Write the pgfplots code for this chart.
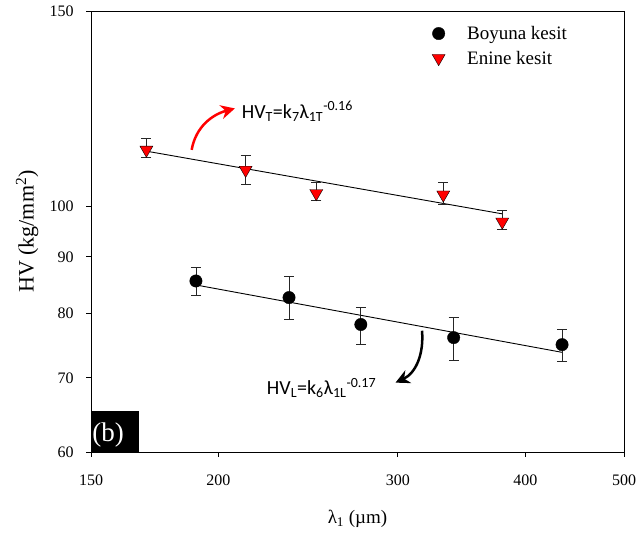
\documentclass[border=0pt]{standalone}
\usepackage{fontspec}
\setmainfont{Liberation Serif}
\newfontfamily\calfont{Carlito}
\usepackage{pgfplots}
\pgfplotsset{compat=1.18}
\usetikzlibrary{arrows.meta}

\begin{document}
\begin{tikzpicture}
\begin{axis}[
  scale only axis, width=533pt, height=441pt,
  xmode=log, ymode=log,
  xmin=150, xmax=500, ymin=60, ymax=150,
  xtick={150,200,300,400,500}, ytick={60,70,80,90,100,150},
  minor xtick={}, minor ytick={},
  log ticks with fixed point,
  /pgf/number format/assume math mode=true,
  tick align=outside, xtick pos=bottom, ytick pos=left,
  major tick length=5pt,
  tick style={black, line width=0.8pt},
  axis line style={line width=0.9pt},
  ticklabel style={font=\fontsize{16}{18}\selectfont},
  xticklabel style={yshift=-14pt},
  yticklabel style={xshift=-9pt},
  xlabel={λ\textsubscript{1} (µm)},
  ylabel={HV (kg/mm\textsuperscript{2})},
  every axis x label/.style={at={(axis description cs:0.5,-0.152)}, anchor=center, font=\fontsize{19}{22}\selectfont},
  every axis y label/.style={at={(axis description cs:-0.120,0.5)}, rotate=90, anchor=center, font=\fontsize{22}{26}\selectfont},
  legend style={draw=none, fill=none, at={(axis description cs:0.634,0.975)}, anchor=north west,
    font=\fontsize{19}{22}\selectfont, row sep=6pt},
  legend cell align=left,
  error bars/error bar style={line width=0.8pt, black!85},
  error bars/error mark options={rotate=90, mark size=5pt, line width=0.8pt, black!85},
]
% fitted power-law lines
\addplot[black, line width=0.9pt, forget plot] coordinates {(190,84.9) (435,73.8)};
\addplot[black, line width=0.9pt, forget plot] coordinates {(170,112.1) (380,98.4)};

% Boyuna kesit
\addplot[only marks, mark=*, mark size=6.2pt, mark options={fill=black, draw=black},
  error bars/.cd, y dir=both, y explicit] coordinates {
  (190.1,85.6) += (0,2.4) -= (0,2.6)
  (234.6,82.7) += (0,3.8) -= (0,3.7)
  (275.9,78.2) += (0,2.9) -= (0,3.1)
  (340.3,76.1) += (0,3.2) -= (0,3.5)
  (434.7,75.0) += (0,2.4) -= (0,2.5)
};
\addlegendentry{\hspace{20pt}Boyuna kesit}

% Enine kesit
\addplot[only marks, mark=triangle*, mark size=7.5pt, mark options={rotate=180, fill=red, draw=black, line width=0.4pt},
  error bars/.cd, y dir=both, y explicit] coordinates {
  (170.0,112.4) += (0,2.6) -= (0,1.8)
  (212.7,107.8) += (0,3.2) -= (0,3.2)
  (249.5,102.7) += (0,2.3) -= (0,1.6)
  (332.4,102.4) += (0,2.6) -= (0,2.0)
  (379.8,96.8)  += (0,2.3) -= (0,1.6)
};
\addlegendentry{\hspace{20pt}Enine kesit}

% annotations
\draw[red, line width=2.5pt, -{Stealth[length=14pt,width=14pt]}] (axis cs:188.3,112.4) to[out=80,in=195] (axis cs:207.6,122.5);
\node[anchor=base west, inner sep=0, font=\calfont\fontsize{20}{22}\selectfont] at (axis cs:210.8,120.0)
  {HV\textsubscript{T}=k\textsubscript{7}λ\textsubscript{1T}\textsuperscript{-0.16}};
\draw[black, line width=2.5pt, -{Stealth[length=14pt,width=14pt]}] (axis cs:316.8,77.2) to[out=-85,in=25] (axis cs:298.4,69.3);
\node[anchor=base west, inner sep=0, font=\calfont\fontsize{20}{22}\selectfont] at (axis cs:223.1,67.6)
  {HV\textsubscript{L}=k\textsubscript{6}λ\textsubscript{1L}\textsuperscript{-0.17}};

\fill[black] (rel axis cs:0,0) rectangle (rel axis cs:0.090,0.093);
\node[anchor=base west, inner sep=0, text=white, font=\fontsize{27}{30}\selectfont] at (rel axis cs:0.002,0.024) {(b)};
\end{axis}
\pgfresetboundingbox
\path[use as bounding box] ([shift={(-91pt,-95pt)}]current axis.south west) rectangle ([shift={(15pt,11pt)}]current axis.north east);
\end{tikzpicture}
\end{document}
